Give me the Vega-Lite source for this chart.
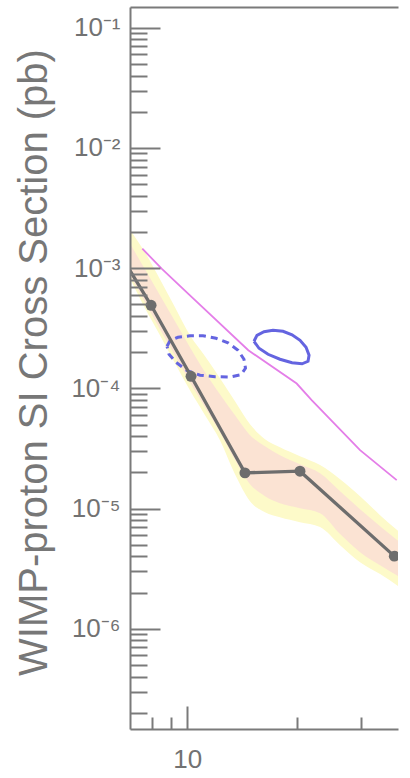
{
  "$schema": "https://vega.github.io/schema/vega-lite/v6.json",
  "width": 268,
  "height": 722,
  "autosize": "none",
  "padding": {"left": 130, "top": 7, "right": 12, "bottom": 49},
  "background": "white",
  "config": {"view": {"stroke": null}, "font": "Liberation Sans"},
  "datasets": {
    "band": [
      {"x": 6.95, "yh": 2.1e-3, "ph": 1.609e-3, "pl": 8.72e-4, "yl": 8.23e-4},
      {"x": 7.65, "yh": 1.354e-3, "ph": 9.78e-4, "pl": 5.20e-4, "yl": 4.64e-4},
      {"x": 8.41, "yh": 8.08e-4, "ph": 5.95e-4, "pl": 3.10e-4, "yl": 2.765e-4},
      {"x": 9.25, "yh": 4.73e-4, "ph": 3.62e-4, "pl": 1.886e-4, "yl": 1.618e-4},
      {"x": 10.17, "yh": 2.765e-4, "ph": 2.198e-4, "pl": 1.125e-4, "yl": 9.65e-5},
      {"x": 11.19, "yh": 1.85e-4, "ph": 1.362e-4, "pl": 6.97e-5, "yl": 5.98e-5},
      {"x": 12.3, "yh": 1.214e-4, "ph": 8.94e-5, "pl": 4.32e-5, "yl": 3.71e-5},
      {"x": 13.53, "yh": 7.82e-5, "ph": 5.98e-5, "pl": 2.53e-5, "yl": 1.932e-5},
      {"x": 14.88, "yh": 5.03e-5, "ph": 4.08e-5, "pl": 1.596e-5, "yl": 1.152e-5},
      {"x": 16.36, "yh": 3.78e-5, "ph": 3.3e-5, "pl": 1.268e-5, "yl": 9.34e-6},
      {"x": 17.99, "yh": 3.24e-5, "ph": 2.78e-5, "pl": 1.109e-5, "yl": 8.48e-6},
      {"x": 20.42, "yh": 2.73e-5, "ph": 2.34e-5, "pl": 1.008e-5, "yl": 7.71e-6},
      {"x": 23.19, "yh": 2.3e-5, "ph": 1.97e-5, "pl": 9.16e-6, "yl": 7.01e-6},
      {"x": 26.33, "yh": 1.756e-5, "ph": 1.396e-5, "pl": 6.13e-6, "yl": 4.96e-6},
      {"x": 29.88, "yh": 1.268e-5, "ph": 9.89e-6, "pl": 4.34e-6, "yl": 3.58e-6},
      {"x": 33.92, "yh": 8.82e-6, "ph": 7.14e-6, "pl": 3.38e-6, "yl": 2.85e-6},
      {"x": 38.1, "yh": 6.49e-6, "ph": 5.36e-6, "pl": 2.74e-6, "yl": 2.26e-6}
    ],
    "limit": [
      {"x": 6.95, "s": 9.6e-4, "pt": false},
      {"x": 7.95, "s": 4.91e-4, "pt": true},
      {"x": 10.24, "s": 1.261e-4, "pt": true},
      {"x": 14.41, "s": 1.982e-5, "pt": true},
      {"x": 20.42, "s": 2.047e-5, "pt": true},
      {"x": 37.12, "s": 4.02e-6, "pt": true}
    ],
    "pink": [
      {"x": 7.52, "s": 1.454e-3},
      {"x": 8.5, "s": 9.92e-4},
      {"x": 10.17, "s": 5.95e-4},
      {"x": 14.72, "s": 2.075e-4},
      {"x": 20.0, "s": 1.097e-4},
      {"x": 21.99, "s": 7.97e-5},
      {"x": 29.88, "s": 3.06e-5},
      {"x": 37.69, "s": 1.723e-5}
    ],
    "ellipse": [
      {"shape": "solid", "i": 1, "x": 15.26, "s": 2.466e-4},
      {"shape": "solid", "i": 2, "x": 15.55, "s": 2.765e-4},
      {"shape": "solid", "i": 3, "x": 16.26, "s": 2.957e-4},
      {"shape": "solid", "i": 4, "x": 17.21, "s": 3.043e-4},
      {"shape": "solid", "i": 5, "x": 18.34, "s": 2.985e-4},
      {"shape": "solid", "i": 6, "x": 19.42, "s": 2.793e-4},
      {"shape": "solid", "i": 7, "x": 20.43, "s": 2.513e-4},
      {"shape": "solid", "i": 8, "x": 21.22, "s": 2.198e-4},
      {"shape": "solid", "i": 9, "x": 21.63, "s": 1.886e-4},
      {"shape": "solid", "i": 10, "x": 21.49, "s": 1.681e-4},
      {"shape": "solid", "i": 11, "x": 20.69, "s": 1.602e-4},
      {"shape": "solid", "i": 12, "x": 19.42, "s": 1.634e-4},
      {"shape": "solid", "i": 13, "x": 17.99, "s": 1.747e-4},
      {"shape": "solid", "i": 14, "x": 16.68, "s": 1.922e-4},
      {"shape": "solid", "i": 15, "x": 15.75, "s": 2.157e-4},
      {"shape": "solid", "i": 16, "x": 15.26, "s": 2.466e-4},
      {"shape": "dashed", "i": 1, "x": 8.794, "s": 2.24e-4},
      {"shape": "dashed", "i": 2, "x": 8.962, "s": 2.489e-4},
      {"shape": "dashed", "i": 3, "x": 9.428, "s": 2.662e-4},
      {"shape": "dashed", "i": 4, "x": 10.17, "s": 2.739e-4},
      {"shape": "dashed", "i": 5, "x": 11.046, "s": 2.739e-4},
      {"shape": "dashed", "i": 6, "x": 11.995, "s": 2.612e-4},
      {"shape": "dashed", "i": 7, "x": 12.94, "s": 2.395e-4},
      {"shape": "dashed", "i": 8, "x": 13.79, "s": 2.075e-4},
      {"shape": "dashed", "i": 9, "x": 14.32, "s": 1.747e-4},
      {"shape": "dashed", "i": 10, "x": 14.46, "s": 1.47e-4},
      {"shape": "dashed", "i": 11, "x": 14.05, "s": 1.298e-4},
      {"shape": "dashed", "i": 12, "x": 13.11, "s": 1.242e-4},
      {"shape": "dashed", "i": 13, "x": 11.92, "s": 1.25e-4},
      {"shape": "dashed", "i": 14, "x": 10.84, "s": 1.286e-4},
      {"shape": "dashed", "i": 15, "x": 9.998, "s": 1.401e-4},
      {"shape": "dashed", "i": 16, "x": 9.309, "s": 1.649e-4},
      {"shape": "dashed", "i": 17, "x": 8.906, "s": 1.922e-4},
      {"shape": "dashed", "i": 18, "x": 8.794, "s": 2.24e-4}
    ]
  },
  "resolve": {"axis": {"x": "independent", "y": "independent"}},
  "layer": [
    {
      "data": {"name": "band"},
      "mark": {"type": "area", "color": "#fdfac9", "interpolate": "monotone", "clip": true},
      "encoding": {
        "x": {"field": "x", "type": "quantitative",
          "scale": {"type": "log", "domain": [6.956, 38.0], "nice": false},
          "axis": {"orient": "bottom", "values": [10], "tickSize": -23, "tickWidth": 2, "tickColor": "#7a7a7a",
            "domainColor": "#7a7a7a", "domainWidth": 2, "labelFontSize": 26, "labelColor": "#727272",
            "labelPadding": 40, "labelFont": "Liberation Sans", "title": null, "grid": false, "zindex": 2,
            "labelFlush": false, "labelOverlap": false, "format": "d"}},
        "y": {"field": "yl", "type": "quantitative",
          "scale": {"type": "log", "domain": [1.466e-7, 0.1489], "nice": false},
          "axis": {"orient": "left", "values": [1e-6, 1e-5, 1e-4, 1e-3, 1e-2, 1e-1], "tickSize": -30, "tickWidth": 2,
            "tickColor": "#7a7a7a", "domainColor": "#7a7a7a", "domainWidth": 2, "labelFontSize": 26,
            "labelColor": "#727272", "labelFont": "Liberation Sans", "labelPadding": 40, "labelFlush": false, "labelOverlap": false,
            "labelExpr": "'10' + ['', '⁻¹', '⁻²', '⁻³', '⁻⁴', '⁻⁵', '⁻⁶', '⁻⁷'][round(-log(datum.value)/LN10)]",
            "title": "WIMP-proton SI Cross Section (pb)", "titleFontSize": 40, "titleFont": "Liberation Sans",
            "titleFontWeight": "normal", "titleColor": "#777777", "titleX": -96, "titleY": 355,
            "titleAngle": -90, "titleAlign": "center", "titleBaseline": "middle", "grid": false, "zindex": 2}},
        "y2": {"field": "yh"}
      }
    },
    {
      "data": {"name": "band"},
      "mark": {"type": "area", "color": "#fbe3d3", "interpolate": "monotone", "clip": true},
      "encoding": {
        "x": {"field": "x", "type": "quantitative",
          "scale": {"type": "log", "domain": [6.956, 38.0], "nice": false},
          "axis": {"orient": "bottom", "values": [8, 9, 20, 30], "tickSize": -12, "tickWidth": 2, "tickColor": "#7a7a7a",
            "domain": false, "labels": false, "title": null, "grid": false, "zindex": 2}},
        "y": {"field": "pl", "type": "quantitative",
          "scale": {"type": "log", "domain": [1.466e-7, 0.1489], "nice": false},
          "axis": {"orient": "left", "values": [2e-7, 3e-7, 4e-7, 5e-7, 6e-7, 7e-7, 8e-7, 9e-7, 2e-6, 3e-6, 4e-6, 5e-6, 6e-6, 7e-6, 8e-6, 9e-6, 2e-5, 3e-5, 4e-5, 5e-5, 6e-5, 7e-5, 8e-5, 9e-5, 2e-4, 3e-4, 4e-4, 5e-4, 6e-4, 7e-4, 8e-4, 9e-4, 2e-3, 3e-3, 4e-3, 5e-3, 6e-3, 7e-3, 8e-3, 9e-3, 2e-2, 3e-2, 4e-2, 5e-2, 6e-2, 7e-2, 8e-2, 9e-2],
            "tickSize": -17, "tickWidth": 2, "tickColor": "#7a7a7a", "domain": false, "labels": false, "title": null, "grid": false, "zindex": 2}},
        "y2": {"field": "ph"}
      }
    },
    {
      "data": {"name": "pink"},
      "mark": {"type": "line", "color": "#e47ee8", "strokeWidth": 1.8, "clip": true},
      "encoding": {
        "x": {"field": "x", "type": "quantitative",
          "scale": {"type": "log", "domain": [6.956, 38.0], "nice": false},
          "axis": {"orient": "top", "ticks": false, "labels": false, "domainColor": "#7a7a7a", "domainWidth": 2, "title": null, "grid": false}},
        "y": {"field": "s", "type": "quantitative",
          "scale": {"type": "log", "domain": [1.466e-7, 0.1489], "nice": false}, "axis": null}
      }
    },
    {
      "data": {"name": "ellipse"},
      "transform": [{"filter": "datum.shape == 'solid'"}],
      "mark": {"type": "line", "color": "#6464e0", "strokeWidth": 3, "clip": true},
      "encoding": {
        "x": {"field": "x", "type": "quantitative",
          "scale": {"type": "log", "domain": [6.956, 38.0], "nice": false}, "axis": null},
        "y": {"field": "s", "type": "quantitative",
          "scale": {"type": "log", "domain": [1.466e-7, 0.1489], "nice": false}, "axis": null},
        "order": {"field": "i", "type": "quantitative"}
      }
    },
    {
      "data": {"name": "ellipse"},
      "transform": [{"filter": "datum.shape == 'dashed'"}],
      "mark": {"type": "line", "color": "#6464e0", "strokeWidth": 3, "strokeDash": [7, 5], "clip": true},
      "encoding": {
        "x": {"field": "x", "type": "quantitative",
          "scale": {"type": "log", "domain": [6.956, 38.0], "nice": false}, "axis": null},
        "y": {"field": "s", "type": "quantitative",
          "scale": {"type": "log", "domain": [1.466e-7, 0.1489], "nice": false}, "axis": null},
        "order": {"field": "i", "type": "quantitative"}
      }
    },
    {
      "data": {"name": "limit"},
      "mark": {"type": "line", "color": "#6d6d6d", "strokeWidth": 3.3, "clip": true},
      "encoding": {
        "x": {"field": "x", "type": "quantitative",
          "scale": {"type": "log", "domain": [6.956, 38.0], "nice": false}, "axis": null},
        "y": {"field": "s", "type": "quantitative",
          "scale": {"type": "log", "domain": [1.466e-7, 0.1489], "nice": false}, "axis": null}
      }
    },
    {
      "data": {"name": "limit"},
      "transform": [{"filter": "datum.pt"}],
      "mark": {"type": "point", "filled": true, "color": "#6d6d6d", "opacity": 1, "size": 120, "clip": true},
      "encoding": {
        "x": {"field": "x", "type": "quantitative",
          "scale": {"type": "log", "domain": [6.956, 38.0], "nice": false}, "axis": null},
        "y": {"field": "s", "type": "quantitative",
          "scale": {"type": "log", "domain": [1.466e-7, 0.1489], "nice": false}, "axis": null}
      }
    }
  ]
}
